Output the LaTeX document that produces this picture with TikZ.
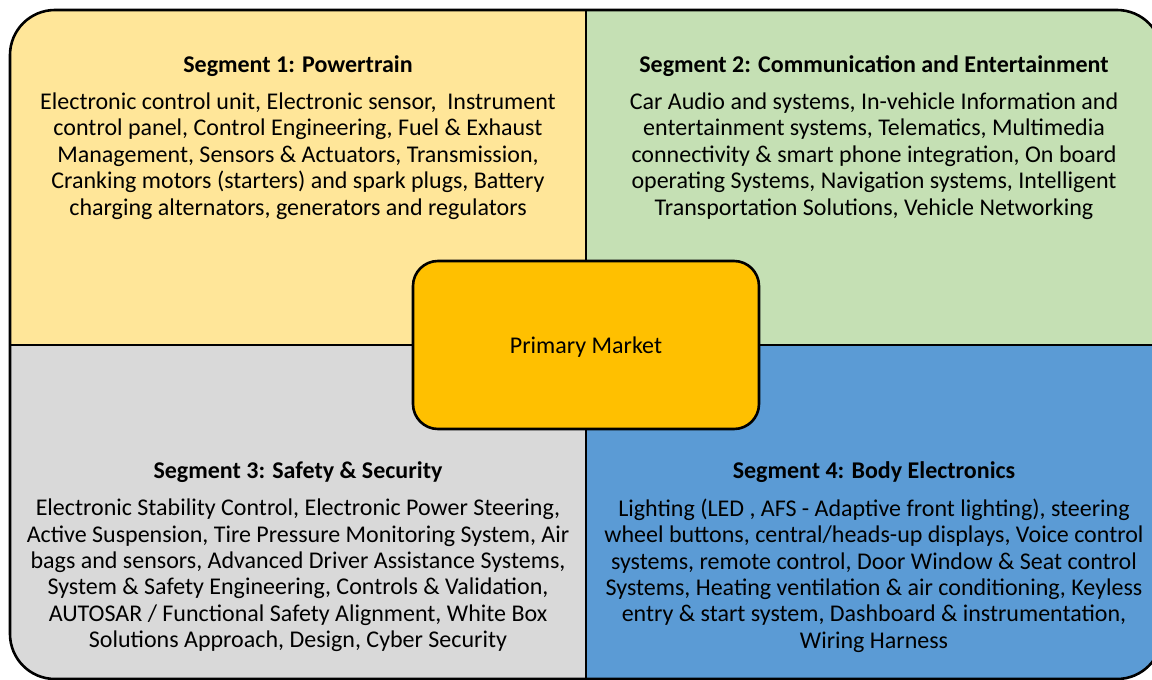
\documentclass[tikz,border=0pt]{standalone}
\usepackage{fontspec}
\setmainfont{Carlito}
\definecolor{segA}{HTML}{FFE699}
\definecolor{segB}{HTML}{C5E0B4}
\definecolor{segC}{HTML}{D9D9D9}
\definecolor{segD}{HTML}{5B9BD5}
\definecolor{core}{HTML}{FFC000}
\tikzset{
  segtitle/.style={font=\fontsize{24}{26.4}\selectfont\bfseries, inner sep=0pt, anchor=center},
  segbody/.style={font=\fontsize{24}{26.4}\selectfont, align=center, inner sep=0pt, anchor=center},
  corebox/.style={draw=black, line width=2.6pt, fill=core, rounded corners=25pt,
    minimum width=346pt, minimum height=168pt, font=\fontsize{24}{26.4}\selectfont}
}
\begin{document}
\begin{tikzpicture}[x=1pt,y=-1pt]
\useasboundingbox (0,0) rectangle (1152,680);
\fill[white] (0,0) rectangle (1152,680);
\begin{scope}
  \clip[rounded corners=45pt] (10,10) rectangle (1162,679);
  \fill[segA] (0,0) rectangle (586,345);
  \fill[segB] (586,0) rectangle (1200,345);
  \fill[segC] (0,345) rectangle (586,700);
  \fill[segD] (586,345) rectangle (1200,700);
\end{scope}
\draw[line width=2.6pt, rounded corners=45pt] (10,10) rectangle (1162,679);
\draw[line width=2.6pt] (586,10) -- (586,679);
\draw[line width=2.6pt] (10,345) -- (1162,345);

\node[corebox, label={[font=\fontsize{24}{26.4}\selectfont, yshift=-2pt]center:Primary Market}] (core) at (586,345) {};

\node[segtitle] (t1) at (298,66) {Segment 1: Powertrain};
\node[segbody] (b1) at (298,156) {Electronic control unit, Electronic sensor,\ \ Instrument\\
control panel, Control Engineering, Fuel \& Exhaust\\
Management, Sensors \& Actuators, Transmission,\\
Cranking motors (starters) and spark plugs, Battery\\
charging alternators, generators and regulators};

\node[segtitle] (t2) at (874,66) {Segment 2: Communication and Entertainment};
\node[segbody] (b2) at (874,156) {Car Audio and systems, In-vehicle Information and\\
entertainment systems, Telematics, Multimedia\\
connectivity \& smart phone integration, On board\\
operating Systems, Navigation systems, Intelligent\\
Transportation Solutions, Vehicle Networking};

\node[segtitle] (t3) at (298,472) {Segment 3: Safety \& Security};
\node[segbody] (b3) at (298,575.5) {Electronic Stability Control, Electronic Power Steering,\\
Active Suspension, Tire Pressure Monitoring System, Air\\
bags and sensors, Advanced Driver Assistance Systems,\\
System \& Safety Engineering, Controls \& Validation,\\
AUTOSAR / Functional Safety Alignment, White Box\\
Solutions Approach, Design, Cyber Security};

\node[segtitle] (t4) at (874,472) {Segment 4: Body Electronics};
\node[segbody] (b4) at (874,575.5) {Lighting (LED , AFS - Adaptive front lighting), steering\\
wheel buttons, central/heads-up displays, Voice control\\
systems, remote control, Door Window \& Seat control\\
Systems, Heating ventilation \& air conditioning, Keyless\\
entry \& start system, Dashboard \& instrumentation,\\
Wiring Harness};
\end{tikzpicture}
\end{document}
